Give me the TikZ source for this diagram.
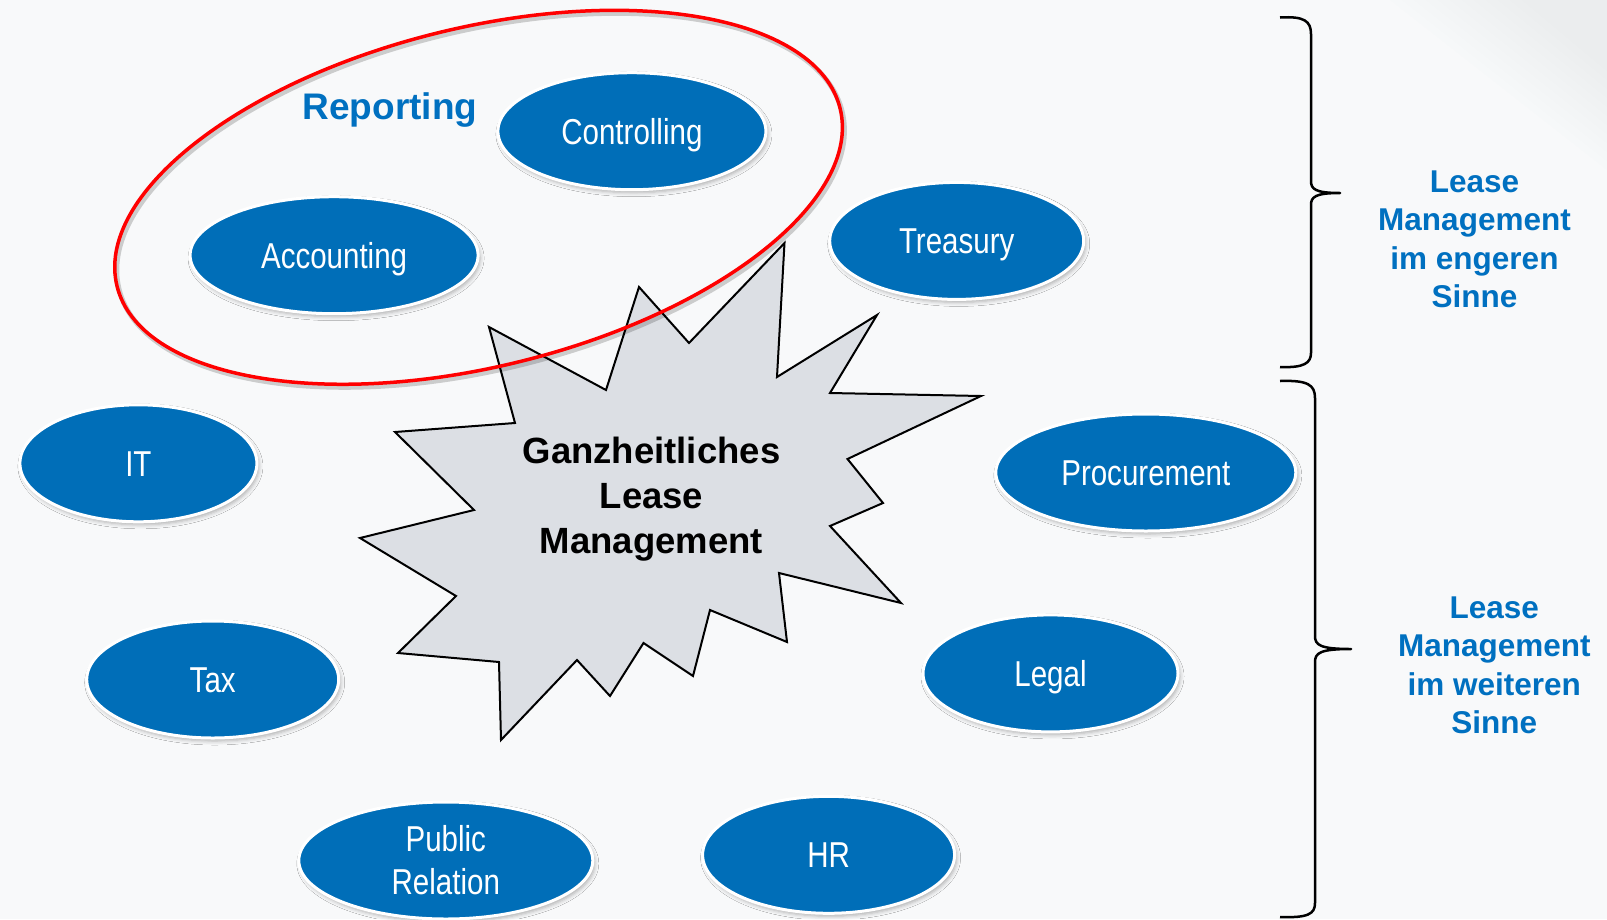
\documentclass[tikz,border=0pt]{standalone}
\usepackage{fontspec}
\setmainfont{Liberation Sans}
\newfontfamily\narrowfont[FakeStretch=0.82]{Liberation Sans}
\usetikzlibrary{shapes.geometric,shadows.blur}
\definecolor{ovalblue}{RGB}{0,110,184}
\definecolor{txtblue}{RGB}{0,112,192}
\definecolor{bgcol}{RGB}{248,249,250}
\definecolor{starfill}{RGB}{220,223,228}
\definecolor{sweep}{RGB}{196,200,206}
\tikzset{
  oval/.style={ellipse, fill=ovalblue, draw=white, line width=3pt, inner sep=0pt,
    minimum height=117pt, text=white, align=center,
    font=\narrowfont\fontsize{36}{43}\selectfont,
    blur shadow={shadow xshift=2pt, shadow yshift=-3pt, shadow blur radius=4pt, shadow opacity=30}},
  oneline/.style={text height=26pt, text depth=0pt},
  startext/.style={align=center, font=\bfseries\fontsize{36.5}{45}\selectfont, text=black},
  sidelabel/.style={align=center, text=txtblue, font=\bfseries\fontsize{31.5}{38.5}\selectfont},
  bracepath/.style={draw=black, line width=2.5pt, line join=round},
  redring/.style={draw=red, line width=3.5pt},
}
\begin{document}
\begin{tikzpicture}[x=1pt,y=-1pt]
\useasboundingbox (0,0) rectangle (1607,919);
\fill[bgcol] (0,0) rectangle (1607,919);
\foreach \k in {0,...,11} {
  \fill[sweep, opacity=0.02] (1390+12*\k,0) -- (1607,0) -- (1607,170-9*\k) -- cycle;
}
% star
\draw[fill=starfill, line width=2pt, line join=miter]
  (489,327) -- (606,390) -- (639,287) -- (689,343) -- (784.5,243) -- (777,377)
  -- (877,315) -- (830,393) -- (981,396) -- (847.5,459) -- (883,503) -- (830,526)
  -- (901,603) -- (779,573) -- (787,642) -- (710,610) -- (693,676) -- (643.5,643)
  -- (610,696) -- (577,660) -- (501,740) -- (499,662) -- (398,653) -- (456,596)
  -- (360,538) -- (474,510) -- (395,432) -- (515,423) -- cycle;
\node[startext] (star) at (651.5,499) {Ganzheitliches\\Lease\\Management};
% red ring
\coordinate (rc) at (478.6,197.3);
\coordinate (rcs) at (480.6,200.3);
\draw[draw=black, opacity=0.18, line width=5pt, rotate around={13.8:(rcs)}] (rcs) ellipse [x radius=372.3pt, y radius=169.4pt];
\draw[redring, rotate around={13.8:(rc)}] (rc) ellipse [x radius=372.3pt, y radius=169.4pt];
\node[anchor=base, text=txtblue, font=\bfseries\fontsize{37}{43}\selectfont] (rep) at (390,119) {Reporting};
% ovals
\node[oval, oneline, minimum width=268pt] (ctrl) at (631.9,131.2) {Controlling};
\node[oval, oneline, minimum width=288pt] (acc) at (334.1,255.2) {Accounting};
\node[oval, oneline, minimum width=254pt] (treas) at (956.7,240.9) {Treasury};
\node[oval, oneline, minimum width=237pt] (it) at (138.4,463.3) {IT};
\node[oval, oneline, minimum width=300pt] (proc) at (1145.8,472.5) {Procurement};
\node[oval, oneline, minimum width=252pt] (tax) at (212.7,679.5) {Tax};
\node[oval, oneline, minimum width=255pt] (legal) at (1050.5,673.4) {Legal};
\node[oval, minimum width=294pt] (pr) at (445.8,860.5) {Public\\Relation};
\node[oval, oneline, minimum width=252pt] (hr) at (828.6,854.8) {HR};
% braces
\draw[bracepath] (1280,17.5) .. controls (1304,16) and (1311,21) .. (1311,34)
  -- (1311,181) .. controls (1311,189) and (1315,193) .. (1340,193)
  .. controls (1315,193) and (1311,197) .. (1311,205)
  -- (1311,353) .. controls (1311,363) and (1304,368) .. (1280,367);
\draw[bracepath] (1280,381) .. controls (1308,380) and (1315,385) .. (1315,398)
  -- (1315,636) .. controls (1315,645) and (1320,649) .. (1351,649)
  .. controls (1320,649) and (1315,653) .. (1315,662)
  -- (1315,903) .. controls (1315,914) and (1308,918) .. (1280,917);
\node[sidelabel] (lab1) at (1474.5,239.5) {Lease\\Management\\im engeren\\Sinne};
\node[sidelabel] (lab2) at (1494.3,665.5) {Lease\\Management\\im weiteren\\Sinne};
\end{tikzpicture}
\end{document}
